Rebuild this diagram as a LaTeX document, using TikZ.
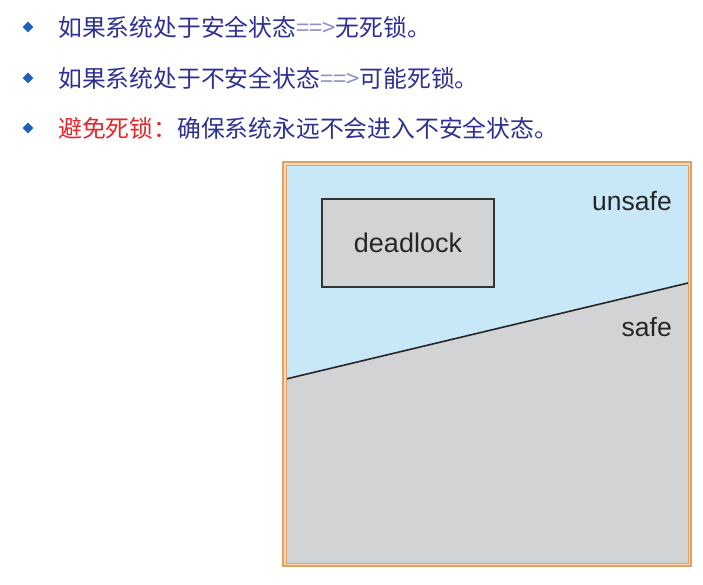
\documentclass[tikz,border=0pt]{standalone}
\usepackage{fontspec}
\setmainfont{Liberation Sans}
\newfontfamily\cjk{Noto Sans CJK SC}
\usetikzlibrary{shapes.geometric}
\definecolor{navy}{HTML}{2E3192}
\definecolor{lightnavy}{HTML}{8C8FCC}
\definecolor{redtxt}{HTML}{E5262B}
\definecolor{bulletblue}{HTML}{1F5FBF}
\definecolor{unsafeblue}{HTML}{C8E8F8}
\definecolor{safegray}{HTML}{D2D3D5}
\definecolor{frameorange}{HTML}{E3A062}
\definecolor{framelight}{HTML}{F6D9B8}
\tikzset{
  bulletmark/.style={diamond, fill=bulletblue, inner sep=0pt, minimum width=11pt, minimum height=11pt},
  linetext/.style={anchor=west, inner sep=0pt, font=\cjk\fontsize{23.8}{28}\selectfont, text=navy},
  label/.style={anchor=east, inner sep=0pt, font=\fontsize{26.5}{30}\selectfont, text=black!85},
}
\begin{document}
\begin{tikzpicture}[x=1pt,y=-1pt]
\useasboundingbox (0,0) rectangle (703,584);
\fill[white] (0,0) rectangle (703,584);
% bullets and text
\node[bulletmark] (b1) at (28,27) {};
\node[bulletmark] (b2) at (28,78) {};
\node[bulletmark] (b3) at (28,128) {};
\node[linetext] (t1) at (58,27) {如果系统处于安全状态\textcolor{lightnavy}{==>}无死锁。};
\node[linetext] (t2) at (58,78) {如果系统处于不安全状态\textcolor{lightnavy}{==>}可能死锁。};
\node[linetext] (t3) at (58,128) {\textcolor{redtxt}{避免死锁：}确保系统永远不会进入不安全状态。};
% diagram
\coordinate (tl) at (286,165);
\coordinate (br) at (688,563);
\coordinate (lineL) at (286,379);
\coordinate (lineR) at (688,283);
\fill[unsafeblue] (tl) rectangle (br);
\fill[safegray] (lineL) -- (lineR) -- (688,563) -- (286,563) -- cycle;
\draw[black!85, line width=1.6pt] (lineL) -- (lineR);
\node[draw=black!80, line width=1.1pt, fill=safegray, minimum width=172pt, minimum height=88pt, font=\fontsize{27}{30}\selectfont, text=black!85] (dl) at (408,243) {deadlock};
\node[label] (unsafe) at (672,201) {unsafe};
\node[label] (safe) at (672,327) {safe};
% frame
\draw[framelight, line width=3pt] (284.5,163.5) rectangle (689.5,564.5);
\draw[frameorange, line width=1.2pt] (283,162) rectangle (691,566);
\draw[frameorange, line width=0.8pt] (286,165) rectangle (688,563);
\end{tikzpicture}
\end{document}
